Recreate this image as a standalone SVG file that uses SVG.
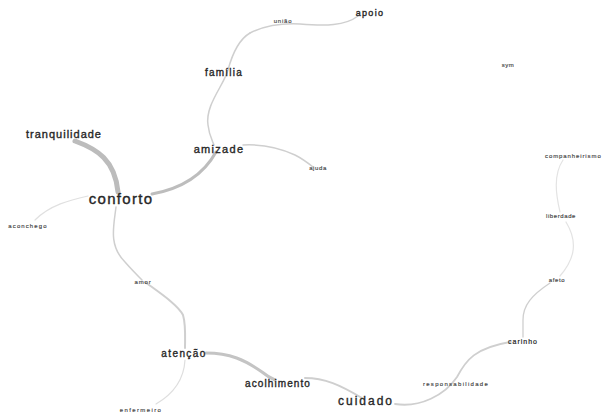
<svg xmlns="http://www.w3.org/2000/svg" width="603" height="417" viewBox="0 0 603 417">
<style>
.e{fill:none;stroke:#cfcfcf;stroke-linecap:round}
.t{font-family:"Liberation Sans",Arial,sans-serif;fill:#262626;stroke:#262626;stroke-width:0.35;text-anchor:middle}
.s{font-family:"Liberation Sans",Arial,sans-serif;fill:#444;stroke:#444;stroke-width:0.15;text-anchor:middle}
</style>
<rect width="603" height="417" fill="#fff"/>
<g id="edges">
<path class="e" stroke-width="1.5" d="M358,16 C345,26 325,26 300,24 C280,23 262,27 250,33"/>
<path class="e" stroke-width="1.5" d="M250,33 C238,40 232,55 228,70 C224,85 205,105 208,125 C209,135 212,140 214,145"/>
<path class="e" stroke-width="3" style="stroke:#bdbdbd" d="M216,152 C205,172 185,188 152,194"/>
<path class="e" stroke-width="5" style="stroke:#bcbcbc" d="M75,141 C97,149 115,160 118,192"/>
<path class="e" stroke-width="1.2" style="stroke:#e0e0e0" d="M88,196 C70,200 50,205 35,220"/>
<path class="e" stroke-width="1.5" d="M116,207 C114,225 108,245 125,262 C132,270 138,276 142,280"/>
<path class="e" stroke-width="2" d="M145,282 C160,293 178,305 183,315 C186,325 185,338 185,348"/>
<path class="e" stroke-width="1.2" style="stroke:#dedede" d="M185,360 C184,378 175,393 156,404"/>
<path class="e" stroke-width="3" style="stroke:#c4c4c4" d="M206,353 C230,353 245,360 262,372 C267,376 270,378 275,380"/>
<path class="e" stroke-width="2" d="M305,378 C325,378 340,385 362,398"/>
<path class="e" stroke-width="1.8" d="M395,404 C420,408 445,395 457,377 C466,360 475,348 510,342"/>
<path class="e" stroke-width="1.3" d="M523,337 L523,320 C523,305 532,295 550,283"/>
<path class="e" stroke-width="1.2" style="stroke:#e3e3e3" d="M560,276 C572,262 580,245 566,222"/>
<path class="e" stroke-width="1.2" style="stroke:#e3e3e3" d="M560,212 C556,195 553,175 563,160"/>
<path class="e" stroke-width="1.5" d="M243,145 C262,144 280,148 295,155 C303,159 308,163 313,167"/>
</g>
<g id="n-apoio"><text class="t" x="370" y="16" font-size="9" letter-spacing="1.3">apoio</text></g>
<g id="n-uniao"><text class="s" x="283" y="23" font-size="6" letter-spacing="0.8">união</text></g>
<g id="n-familia"><text class="t" x="224" y="76" font-size="10" letter-spacing="1.2">família</text></g>
<g id="n-sym"><text class="s" x="508" y="67" font-size="6" letter-spacing="0.5">sym</text></g>
<g id="n-tranquilidade"><text class="t" x="64" y="138" font-size="11" letter-spacing="1">tranquilidade</text></g>
<g id="n-amizade"><text class="t" x="219" y="153" font-size="11" letter-spacing="1.3">amizade</text></g>
<g id="n-ajuda"><text class="s" x="318" y="170" font-size="6" letter-spacing="0.6">ajuda</text></g>
<g id="n-conforto"><text class="t" x="121" y="204" font-size="15" letter-spacing="1.3">conforto</text></g>
<g id="n-aconchego"><text class="s" x="28" y="228" font-size="6" letter-spacing="1.1">aconchego</text></g>
<g id="n-companheirismo"><text class="s" x="545" y="158" font-size="6" letter-spacing="0.9" style="text-anchor:start">companheirismo</text></g>
<g id="n-liberdade"><text class="s" x="561" y="218" font-size="6" letter-spacing="0.6">liberdade</text></g>
<g id="n-afeto"><text class="s" x="557" y="282" font-size="6" letter-spacing="0.6">afeto</text></g>
<g id="n-amor"><text class="s" x="143" y="284" font-size="6" letter-spacing="0.8">amor</text></g>
<g id="n-carinho"><text class="t" x="523" y="344" font-size="7" letter-spacing="1" style="stroke-width:0.2">carinho</text></g>
<g id="n-atencao"><text class="t" x="184" y="357" font-size="10" letter-spacing="1.4">atenção</text></g>
<g id="n-acolhimento"><text class="t" x="278" y="387" font-size="10" letter-spacing="1.1">acolhimento</text></g>
<g id="n-responsabilidade"><text class="s" x="456" y="386" font-size="6" letter-spacing="1.3">responsabilidade</text></g>
<g id="n-cuidado"><text class="t" x="366" y="405" font-size="12" letter-spacing="2">cuidado</text></g>
<g id="n-enfermeiro"><text class="s" x="141" y="412" font-size="6" letter-spacing="1.4">enfermeiro</text></g>
</svg>
